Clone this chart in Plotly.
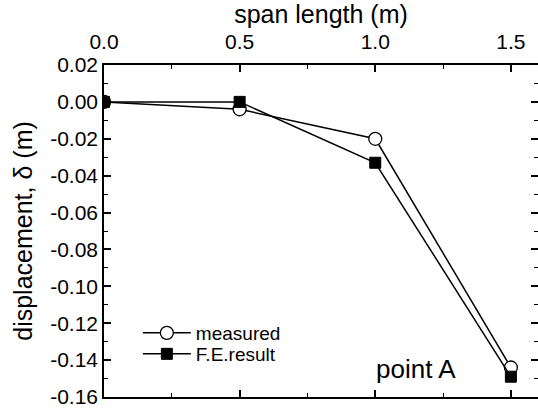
import plotly.graph_objects as go

span = [0.0, 0.5, 1.0, 1.5]
measured = [0.0, -0.004, -0.020, -0.144]
fe_result = [0.0, 0.0, -0.033, -0.149]

x_tickvals = [0.0, 0.5, 1.0, 1.5]
x_ticktext = ["0.0", "0.5", "1.0", "1.5"]
y_tickvals = [0.02, 0.0, -0.02, -0.04, -0.06, -0.08, -0.10, -0.12, -0.14, -0.16]
y_ticktext = ["0.02", "0.00", "-0.02", "-0.04", "-0.06", "-0.08", "-0.10", "-0.12", "-0.14", "-0.16"]

FONT = "Liberation Sans, Arial, sans-serif"

fig = go.Figure()
fig.add_trace(go.Scatter(
    x=span, y=measured, mode="lines+markers", name="measured", legend="legend",
    line=dict(color="black", width=1.5),
    marker=dict(symbol="circle", size=13, color="white", line=dict(color="black", width=1.3)),
))
fig.add_trace(go.Scatter(
    x=span, y=fe_result, mode="lines+markers", name="F.E.result", legend="legend2",
    line=dict(color="black", width=1.5),
    marker=dict(symbol="square", size=11, color="black", line=dict(color="black", width=1)),
))

fig.add_annotation(x=1.15, y=-0.145, xref="x", yref="y", text="point A",
                   showarrow=False, font=dict(family=FONT, size=26, color="black"))

legend_common = dict(xanchor="left", yanchor="middle", bgcolor="rgba(0,0,0,0)",
                     font=dict(size=19, family=FONT), borderwidth=0, itemwidth=48)

fig.update_layout(
    width=538, height=410,
    margin=dict(l=104, r=0, t=65, b=13),
    paper_bgcolor="white", plot_bgcolor="white",
    font=dict(family=FONT, color="black"),
    showlegend=True,
    legend=dict(x=0.078, y=(397 - 333) / 332, **legend_common),
    legend2=dict(x=0.078, y=(397 - 354) / 332, **legend_common),
    xaxis=dict(
        side="top", range=[0, 1.6], automargin=False,
        tickvals=x_tickvals, ticktext=x_ticktext,
        ticks="inside", ticklen=7, tickwidth=1.5, tickcolor="black",
        minor=dict(ticks="inside", ticklen=4, dtick=0.25, tick0=0, tickcolor="black", tickwidth=1.2),
        showline=True, linecolor="black", linewidth=1.5, mirror="allticks",
        showgrid=False, zeroline=False, ticklabeloverflow="allow",
        tickfont=dict(size=21, family=FONT), ticklabelstandoff=6,
        title=dict(text="span length (m)", font=dict(size=25, family=FONT), standoff=2),
    ),
    yaxis=dict(
        range=[-0.16, 0.02], automargin=False,
        tickvals=y_tickvals, ticktext=y_ticktext,
        ticks="inside", ticklen=7, tickwidth=1.5, tickcolor="black",
        minor=dict(ticks="inside", ticklen=4, dtick=0.01, tick0=0, tickcolor="black", tickwidth=1.2),
        showline=True, linecolor="black", linewidth=1.5, mirror="allticks",
        showgrid=False, zeroline=False, ticklabeloverflow="allow",
        tickfont=dict(size=21, family=FONT),
        title=dict(text="displacement, δ (m)", font=dict(size=25, family=FONT), standoff=10),
    ),
)

fig.write_html("out.html", config={"displayModeBar": False},
               post_script="document.body.style.margin='0';")
